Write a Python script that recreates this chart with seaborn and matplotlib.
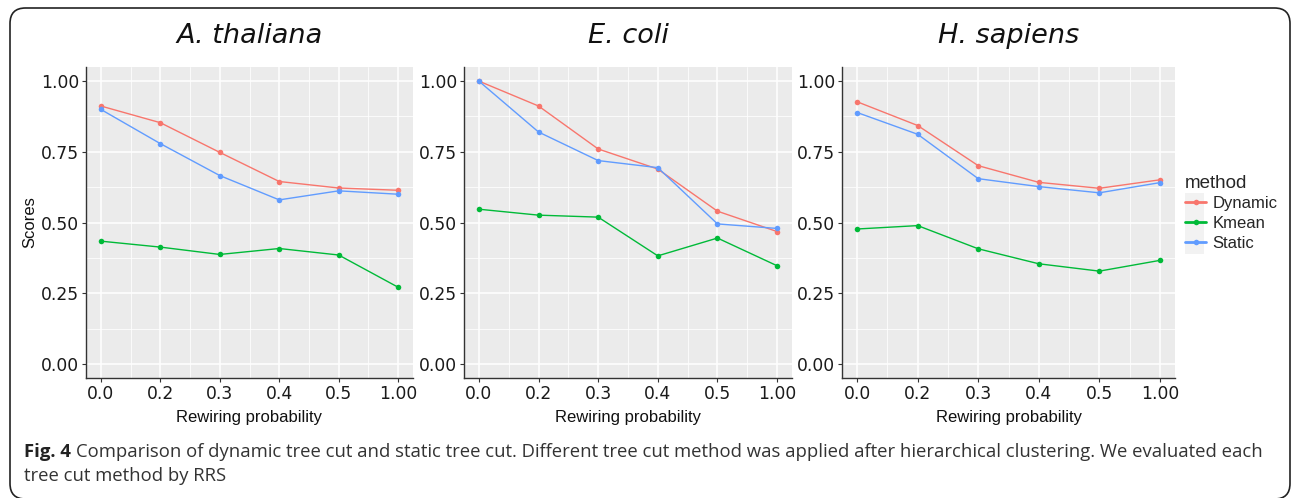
import numpy as np
import pandas as pd
import matplotlib
matplotlib.use('Agg')
import matplotlib.pyplot as plt
from matplotlib.patches import FancyBboxPatch, Rectangle
from matplotlib.lines import Line2D
from matplotlib.ticker import FixedLocator
import seaborn as sns

# Data
probabilities = ['0.0', '0.2', '0.3', '0.4', '0.5', '1.00']
methods = ['Dynamic', 'Kmean', 'Static']
species = ['A. thaliana', 'E. coli', 'H. sapiens']

thaliana_dynamic = [0.912, 0.853, 0.748, 0.645, 0.622, 0.614]
thaliana_kmean = [0.434, 0.413, 0.387, 0.408, 0.385, 0.271]
thaliana_static = [0.900, 0.779, 0.666, 0.580, 0.612, 0.600]

ecoli_dynamic = [1.000, 0.912, 0.760, 0.689, 0.540, 0.468]
ecoli_kmean = [0.547, 0.526, 0.519, 0.382, 0.445, 0.347]
ecoli_static = [1.000, 0.820, 0.719, 0.694, 0.495, 0.479]

sapiens_dynamic = [0.927, 0.843, 0.701, 0.642, 0.621, 0.651]
sapiens_kmean = [0.477, 0.489, 0.407, 0.354, 0.328, 0.366]
sapiens_static = [0.889, 0.812, 0.655, 0.627, 0.605, 0.641]

palette = {'Dynamic': '#F8766D', 'Kmean': '#00BA38', 'Static': '#619CFF'}

sns.set_style('white')
plt.rcParams['font.family'] = ['DejaVu Sans']
plt.rcParams['font.sans-serif'] = ['DejaVu Sans']

W, H = 1292, 498
fig = plt.figure(figsize=(W / 100, H / 100), dpi=100)


def fx(px):
    return px / W


def fy(py):
    return 1 - py / H


def build_frame(dyn, km, st):
    rows = []
    for name, vals in zip(methods, [dyn, km, st]):
        for p, v in zip(probabilities, vals):
            rows.append({'prob': p, 'score': v, 'method': name})
    return pd.DataFrame(rows)


panels = [
    (86, 413, build_frame(thaliana_dynamic, thaliana_kmean, thaliana_static)),
    (464, 792, build_frame(ecoli_dynamic, ecoli_kmean, ecoli_static)),
    (842, 1175, build_frame(sapiens_dynamic, sapiens_kmean, sapiens_static)),
]

top_px, bottom_px = 67, 378
axes = []
for i, (left, right, df) in enumerate(panels):
    ax = fig.add_axes([fx(left), fy(bottom_px), fx(right - left), (bottom_px - top_px) / H])
    ax.set_facecolor('#EBEBEB')
    sns.lineplot(data=df, x='prob', y='score', hue='method', hue_order=methods,
                 palette=palette, marker='o', markersize=4, markeredgewidth=0,
                 linewidth=1.0, legend=False, ax=ax, zorder=3)
    ax.set_xlim(-0.25, 5.25)
    ax.set_ylim(-0.05, 1.05)
    ax.set_yticks([0, 0.25, 0.5, 0.75, 1.0])
    ax.set_yticklabels(['0.00', '0.25', '0.50', '0.75', '1.00'])
    ax.set_xticks(range(len(probabilities)))
    ax.set_xticklabels(probabilities)
    ax.yaxis.set_minor_locator(FixedLocator([0.125, 0.375, 0.625, 0.875]))
    ax.xaxis.set_minor_locator(FixedLocator([0.5, 1.5, 2.5, 3.5, 4.5]))
    ax.grid(which='major', color='white', linewidth=1.1, zorder=0)
    ax.grid(which='minor', color='white', linewidth=0.55, zorder=0)
    ax.set_axisbelow(True)
    for s in ['top', 'right']:
        ax.spines[s].set_visible(False)
    for s in ['left', 'bottom']:
        ax.spines[s].set_color('#333333')
        ax.spines[s].set_linewidth(1.0)
    ax.tick_params(which='major', length=3, width=0.8, color='#333333',
                   labelsize=12.3, labelcolor='#1a1a1a', pad=2, bottom=True, left=True)
    ax.tick_params(which='minor', length=0)
    for lab in ax.get_xticklabels() + ax.get_yticklabels():
        lab.set_family('DejaVu Sans')
    ax.set_xlabel('Rewiring probability', family='Liberation Sans', fontsize=12,
                  color='#111111', labelpad=5)
    if i == 0:
        ax.set_ylabel('Scores', family='Liberation Sans', fontsize=12,
                      color='#111111')
        ax.yaxis.set_label_coords(-0.148, 0.5)
    else:
        ax.set_ylabel('')
    fig.text(fx((left + right) / 2), fy(36), species[i], fontsize=19.5,
             family='DejaVu Sans', style='oblique', ha='center', va='center',
             color='#111111')
    axes.append(ax)

# legend
handles = [Line2D([0], [0], color=palette[m], marker='o', markersize=4,
                  markeredgewidth=0, linewidth=2) for m in methods]
fig.patches.append(Rectangle((fx(1185), fy(254)), fx(19), (254 - 193) / H,
                             transform=fig.transFigure, facecolor='#F2F2F2',
                             edgecolor='none', zorder=-1))
leg = fig.legend(handles, methods, loc='upper left',
                 bbox_to_anchor=(fx(1178), fy(168)), frameon=False,
                 title='method', fontsize=12, title_fontsize=13.5,
                 handlelength=1.3, handletextpad=0.35, labelspacing=0.28,
                 borderaxespad=0)
leg._legend_box.align = 'left'
for t in leg.get_texts():
    t.set_family('Liberation Sans')
leg.get_title().set_family('Liberation Sans')

# rounded border
fig.patches.append(FancyBboxPatch((fx(10), fy(499)), fx(1280), 491 / H,
                                  boxstyle='round,pad=0,rounding_size=0.012',
                                  transform=fig.transFigure, facecolor='none',
                                  edgecolor='#222222', linewidth=1.2,
                                  mutation_aspect=W / H))

# caption
cap_font = 'Open Sans'
t1 = fig.text(fx(24), fy(452), 'Fig. 4', fontsize=13.3, weight='bold',
              family=cap_font, color='#222222', va='center')
fig.canvas.draw()
bb = t1.get_window_extent()
fig.text(bb.x1 / W + fx(5), fy(452),
         'Comparison of dynamic tree cut and static tree cut. Different tree cut method '
         'was applied after hierarchical clustering. We evaluated each',
         fontsize=13.3, family=cap_font, color='#333333', va='center')
fig.text(fx(24), fy(476), 'tree cut method by RRS', fontsize=13.3, family=cap_font,
         color='#333333', va='center')

fig.savefig('out.png', dpi=100)
